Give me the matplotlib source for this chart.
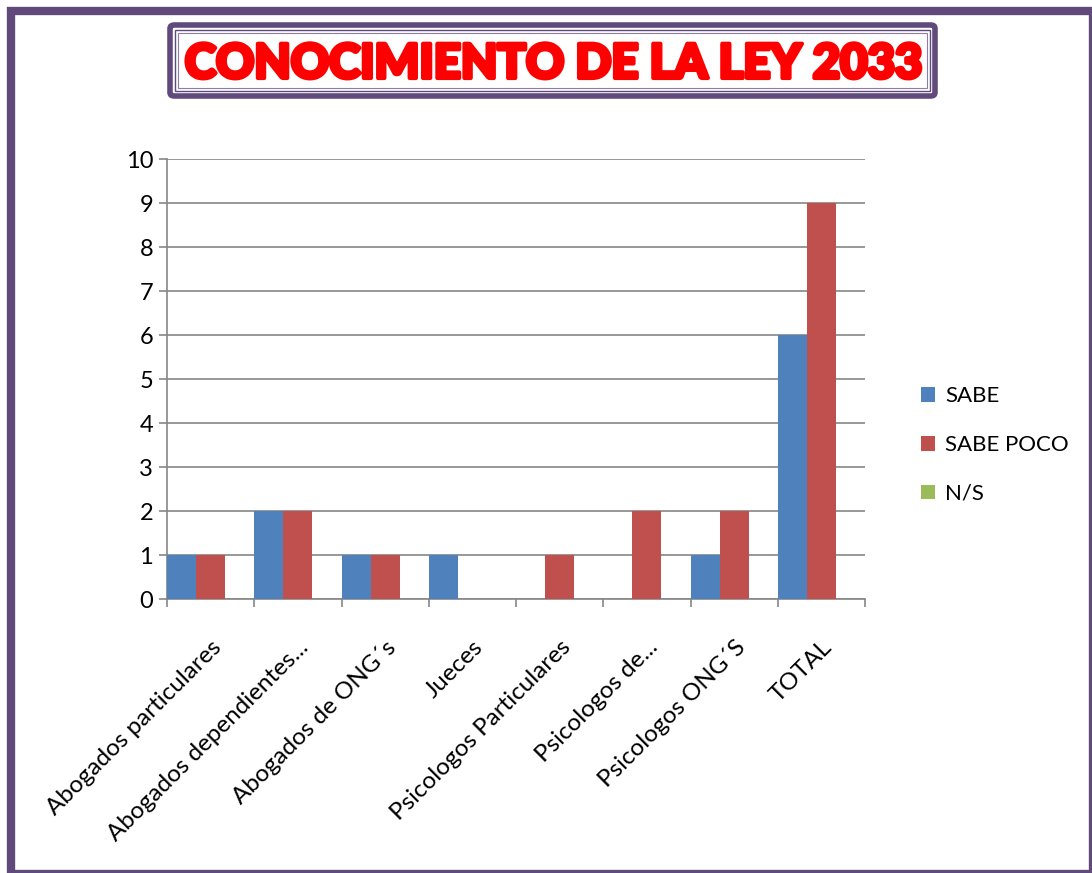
import numpy as np
import matplotlib
matplotlib.use("Agg")
import matplotlib.pyplot as plt
import matplotlib.patheffects as pe
from matplotlib.patches import Rectangle, FancyBboxPatch, Patch

# Conocimiento de la Ley 2033 - grouped bar chart

categories = ["Abogados particulares", "Abogados dependientes...", "Abogados de ONG´s",
              "Jueces", "Psicologos Particulares", "Psicologos de...",
              "Psicologos ONG´S", "TOTAL"]
sabe = [1, 2, 1, 1, 0, 0, 1, 6]
sabe_poco = [1, 2, 1, 0, 1, 2, 2, 9]
n_s = [0, 0, 0, 0, 0, 0, 0, 0]
series_names = ["SABE", "SABE POCO", "N/S"]
colors = ["#4F81BD", "#C0504D", "#9BBB59"]

W, H = 1092, 873
purple = "#604A7B"
grid_gray = "#868686"
font = ["Lato", "DejaVu Sans"]


def fx(px):
    return px / W


def fy(py):
    return 1 - py / H


fig = plt.figure(figsize=(W / 100, H / 100), dpi=100)
fig.patch.set_facecolor("white")

# outer frame (right/bottom partly cut off like the source)
fig.add_artist(Rectangle((fx(11), fy(874)), fx(1092.5) - fx(11), fy(11) - fy(874),
                         transform=fig.transFigure, fill=False,
                         edgecolor=purple, linewidth=6, clip_on=False))

# title box
fig.add_artist(FancyBboxPatch((fx(170), fy(96)), fx(935) - fx(170), fy(25) - fy(96),
                              boxstyle="round,pad=0,rounding_size=0.004",
                              transform=fig.transFigure, facecolor="white",
                              edgecolor=purple, linewidth=4))
fig.add_artist(Rectangle((fx(175), fy(91)), fx(930) - fx(175), fy(30) - fy(91),
                         transform=fig.transFigure, fill=False,
                         edgecolor=purple, linewidth=1))
fig.add_artist(Rectangle((fx(178), fy(88)), fx(927) - fx(178), fy(33) - fy(88),
                         transform=fig.transFigure, fill=False,
                         edgecolor="#8E7CA6", linewidth=0.8))
fig.text(fx(554), fy(64), "CONOCIMIENTO DE LA LEY 2033", ha="center", va="center",
         color="#FF0000", fontsize=34, fontweight="black", family=font,
         path_effects=[pe.withStroke(linewidth=3, foreground="#FF0000")])

ax = fig.add_axes([fx(167), fy(599), fx(865) - fx(167), fy(159) - fy(599)])

x = np.arange(len(categories)) + 0.5
w = 1 / 3
for k, (vals, name, c) in enumerate(zip([sabe, sabe_poco, n_s], series_names, colors)):
    ax.bar(x + (k - 1) * w, vals, width=w, color=c, label=name, zorder=3,
           edgecolor="none")

ax.set_xlim(0, len(categories))
ax.set_ylim(0, 10)
ax.set_yticks(range(0, 11))
ax.set_xticks(np.arange(len(categories) + 1))
ax.set_xticklabels([])
ax.set_xticks(x, minor=True)
ax.set_xticklabels(categories, minor=True, rotation=45, ha="right",
                   rotation_mode="anchor", fontsize=17.5, family=font)
ax.tick_params(axis="x", which="minor", length=0, pad=27)
ax.tick_params(axis="x", which="major", length=6, color=grid_gray, width=1.2)
ax.tick_params(axis="y", length=6, color=grid_gray, width=1.2, labelsize=17, pad=4)
for lab in ax.get_yticklabels():
    lab.set_family(font)

ax.grid(axis="y", color=grid_gray, linewidth=1.2, zorder=0)
ax.set_axisbelow(True)
for s in ["top", "right"]:
    ax.spines[s].set_visible(False)
for s in ["left", "bottom"]:
    ax.spines[s].set_color(grid_gray)
    ax.spines[s].set_linewidth(1.2)

handles = [Patch(facecolor=c, edgecolor="none") for c in colors]
fig.legend(handles, series_names, loc="upper left",
           bbox_to_anchor=(fx(901), fy(366)), frameon=False,
           prop={"family": font, "size": 16}, handlelength=0.65,
           handleheight=0.65, handletextpad=0.45, labelspacing=1.3)

fig.savefig("out.png", dpi=100)
